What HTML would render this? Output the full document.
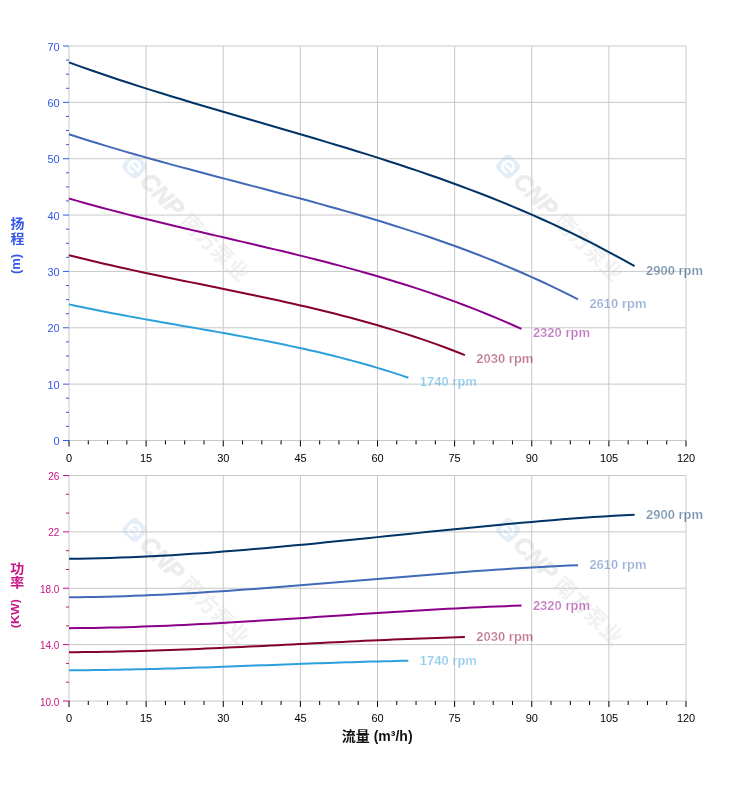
<!DOCTYPE html>
<html lang="zh"><head><meta charset="utf-8"><title>性能曲线</title>
<style>html,body{margin:0;padding:0;background:#fff}svg{display:block}text{font-family:"Liberation Sans", "Noto Sans CJK SC", sans-serif}.xl{font-size:11px;fill:#000;text-anchor:middle;letter-spacing:-.12px}.yl{font-size:11px;text-anchor:end;letter-spacing:-.12px}.ys{font-size:10px;text-anchor:end}.lb{font-size:13px;font-weight:bold;fill-opacity:.52;stroke:#fff;stroke-width:.2px}.ti{font-size:14px;font-weight:bold}.tr{font-weight:bold;text-anchor:middle}</style></head><body>
<svg width="752" height="797" viewBox="0 0 752 797">
<rect width="752" height="797" fill="#fff"/>
<g transform="translate(134.5,166.5) rotate(45)">
<rect x="-10" y="-10" width="20" height="20" rx="5" fill="#e3eef8"/>
<path d="M-4.5,0.5H5.5A5.6,5.6 0 1 0 3.6,4.6" fill="none" stroke="#fff" stroke-width="2.6"/>
<text x="14" y="8.5" font-size="24" font-weight="bold" font-style="italic" fill="#ececec" stroke="#ececec" stroke-width=".8">CNP</text>
<text x="71" y="8" font-size="21.5" font-weight="bold" fill="#f1f1f1">南方泵业</text>
</g>
<g transform="translate(508.2,166.5) rotate(45)">
<rect x="-10" y="-10" width="20" height="20" rx="5" fill="#e3eef8"/>
<path d="M-4.5,0.5H5.5A5.6,5.6 0 1 0 3.6,4.6" fill="none" stroke="#fff" stroke-width="2.6"/>
<text x="14" y="8.5" font-size="24" font-weight="bold" font-style="italic" fill="#ececec" stroke="#ececec" stroke-width=".8">CNP</text>
<text x="71" y="8" font-size="21.5" font-weight="bold" fill="#f1f1f1">南方泵业</text>
</g>
<path d="M69.00,46.0V440.5M146.12,46.0V440.5M223.25,46.0V440.5M300.38,46.0V440.5M377.50,46.0V440.5M454.62,46.0V440.5M531.75,46.0V440.5M608.88,46.0V440.5M686.00,46.0V440.5M69.0,440.50H686.0M69.0,384.14H686.0M69.0,327.79H686.0M69.0,271.43H686.0M69.0,215.07H686.0M69.0,158.71H686.0M69.0,102.36H686.0M69.0,46.00H686.0" stroke="#c8c8c8" stroke-width="1" fill="none"/>
<path d="M63.0,440.50H69.0M66.0,426.41H69.0M66.0,412.32H69.0M66.0,398.23H69.0M63.0,384.14H69.0M66.0,370.05H69.0M66.0,355.96H69.0M66.0,341.88H69.0M63.0,327.79H69.0M66.0,313.70H69.0M66.0,299.61H69.0M66.0,285.52H69.0M63.0,271.43H69.0M66.0,257.34H69.0M66.0,243.25H69.0M66.0,229.16H69.0M63.0,215.07H69.0M66.0,200.98H69.0M66.0,186.89H69.0M66.0,172.80H69.0M63.0,158.71H69.0M66.0,144.62H69.0M66.0,130.54H69.0M66.0,116.45H69.0M63.0,102.36H69.0M66.0,88.27H69.0M66.0,74.18H69.0M66.0,60.09H69.0M63.0,46.00H69.0" stroke="#3558e6" stroke-width="1" fill="none"/>
<path d="M69.00,440.5v6M88.28,440.5v4M107.56,440.5v4M126.84,440.5v4M146.12,440.5v6M165.41,440.5v4M184.69,440.5v4M203.97,440.5v4M223.25,440.5v6M242.53,440.5v4M261.81,440.5v4M281.09,440.5v4M300.38,440.5v6M319.66,440.5v4M338.94,440.5v4M358.22,440.5v4M377.50,440.5v6M396.78,440.5v4M416.06,440.5v4M435.34,440.5v4M454.62,440.5v6M473.91,440.5v4M493.19,440.5v4M512.47,440.5v4M531.75,440.5v6M551.03,440.5v4M570.31,440.5v4M589.59,440.5v4M608.88,440.5v6M628.16,440.5v4M647.44,440.5v4M666.72,440.5v4M686.00,440.5v6" stroke="#000" stroke-width="1" fill="none"/>
<text class="yl" x="59.4" y="445.3" fill="#3558e6">0</text>
<text class="yl" x="59.4" y="389.3" fill="#3558e6">10</text>
<text class="yl" x="59.4" y="332.3" fill="#3558e6">20</text>
<text class="yl" x="59.4" y="276.3" fill="#3558e6">30</text>
<text class="yl" x="59.4" y="220.3" fill="#3558e6">40</text>
<text class="yl" x="59.4" y="163.3" fill="#3558e6">50</text>
<text class="yl" x="59.4" y="107.3" fill="#3558e6">60</text>
<text class="yl" x="59.4" y="51.3" fill="#3558e6">70</text>
<text class="xl" x="69.0" y="461.8">0</text>
<text class="xl" x="146.1" y="461.8">15</text>
<text class="xl" x="223.2" y="461.8">30</text>
<text class="xl" x="300.4" y="461.8">45</text>
<text class="xl" x="377.5" y="461.8">60</text>
<text class="xl" x="454.6" y="461.8">75</text>
<text class="xl" x="531.8" y="461.8">90</text>
<text class="xl" x="608.9" y="461.8">105</text>
<text class="xl" x="686.0" y="461.8">120</text>
<path d="M69.00,62.41 L79.28,66.11 L89.57,69.73 L99.85,73.28 L110.13,76.76 L120.42,80.18 L130.70,83.53 L140.98,86.83 L151.27,90.09 L161.55,93.29 L171.83,96.45 L182.12,99.58 L192.40,102.67 L202.68,105.74 L212.97,108.78 L223.25,111.80 L233.53,114.80 L243.82,117.79 L254.10,120.78 L264.38,123.76 L274.67,126.75 L284.95,129.74 L295.23,132.74 L305.52,135.75 L315.80,138.79 L326.08,141.85 L336.37,144.94 L346.65,148.05 L356.93,151.21 L367.22,154.41 L377.50,157.65 L387.78,160.94 L398.07,164.29 L408.35,167.69 L418.63,171.16 L428.92,174.69 L439.20,178.30 L449.48,181.98 L459.77,185.74 L470.05,189.59 L480.33,193.52 L490.62,197.55 L500.90,201.68 L511.18,205.91 L521.47,210.24 L531.75,214.69 L542.03,219.25 L552.32,223.93 L562.60,228.73 L572.88,233.67 L583.17,238.73 L593.45,243.93 L603.73,249.28 L614.02,254.76 L624.30,260.40 L634.58,266.20" stroke="#003366" stroke-width="2" fill="none" stroke-linejoin="round"/>
<text class="lb" x="646.0" y="274.5" fill="#003366">2900 rpm</text>
<path d="M69.00,134.25 L78.25,137.25 L87.51,140.18 L96.77,143.05 L106.02,145.87 L115.28,148.64 L124.53,151.36 L133.78,154.03 L143.04,156.66 L152.30,159.26 L161.55,161.82 L170.81,164.35 L180.06,166.86 L189.31,169.34 L198.57,171.80 L207.82,174.25 L217.08,176.68 L226.34,179.11 L235.59,181.53 L244.84,183.94 L254.10,186.36 L263.36,188.78 L272.61,191.21 L281.87,193.66 L291.12,196.11 L300.38,198.59 L309.63,201.09 L318.88,203.62 L328.14,206.18 L337.40,208.76 L346.65,211.39 L355.91,214.06 L365.16,216.77 L374.41,219.52 L383.67,222.33 L392.93,225.20 L402.18,228.12 L411.44,231.10 L420.69,234.15 L429.94,237.26 L439.20,240.45 L448.45,243.71 L457.71,247.06 L466.97,250.48 L476.22,253.99 L485.48,257.59 L494.73,261.29 L503.99,265.08 L513.24,268.97 L522.50,272.96 L531.75,277.07 L541.00,281.28 L550.26,285.61 L559.52,290.05 L568.77,294.62 L578.02,299.31" stroke="#4169b8" stroke-width="2" fill="none" stroke-linejoin="round"/>
<text class="lb" x="589.4" y="307.6" fill="#4169b8">2610 rpm</text>
<path d="M69.00,198.53 L77.23,200.89 L85.45,203.21 L93.68,205.48 L101.91,207.71 L110.13,209.89 L118.36,212.04 L126.59,214.15 L134.81,216.23 L143.04,218.29 L151.27,220.31 L159.49,222.31 L167.72,224.29 L175.95,226.25 L184.17,228.20 L192.40,230.13 L200.63,232.05 L208.85,233.97 L217.08,235.88 L225.31,237.79 L233.53,239.70 L241.76,241.61 L249.99,243.53 L258.21,245.46 L266.44,247.41 L274.67,249.36 L282.89,251.34 L291.12,253.33 L299.35,255.35 L307.57,257.40 L315.80,259.48 L324.03,261.58 L332.25,263.72 L340.48,265.90 L348.71,268.12 L356.93,270.38 L365.16,272.69 L373.39,275.05 L381.61,277.45 L389.84,279.92 L398.07,282.44 L406.29,285.01 L414.52,287.65 L422.75,290.36 L430.97,293.14 L439.20,295.98 L447.43,298.90 L455.65,301.89 L463.88,304.97 L472.11,308.13 L480.33,311.37 L488.56,314.70 L496.79,318.12 L505.01,321.63 L513.24,325.24 L521.47,328.95" stroke="#8b008b" stroke-width="2" fill="none" stroke-linejoin="round"/>
<text class="lb" x="532.9" y="337.2" fill="#8b008b">2320 rpm</text>
<path d="M69.00,255.24 L76.20,257.05 L83.40,258.82 L90.59,260.56 L97.79,262.27 L104.99,263.94 L112.19,265.59 L119.39,267.20 L126.59,268.80 L133.78,270.37 L140.98,271.92 L148.18,273.45 L155.38,274.96 L162.58,276.47 L169.78,277.96 L176.97,279.44 L184.17,280.91 L191.37,282.37 L198.57,283.84 L205.77,285.30 L212.97,286.76 L220.16,288.23 L227.36,289.70 L234.56,291.17 L241.76,292.66 L248.96,294.16 L256.16,295.67 L263.36,297.20 L270.55,298.75 L277.75,300.31 L284.95,301.90 L292.15,303.52 L299.35,305.16 L306.54,306.82 L313.74,308.52 L320.94,310.25 L328.14,312.02 L335.34,313.83 L342.54,315.67 L349.73,317.55 L356.93,319.48 L364.13,321.46 L371.33,323.48 L378.53,325.55 L385.73,327.67 L392.92,329.85 L400.12,332.09 L407.32,334.38 L414.52,336.73 L421.72,339.15 L428.92,341.63 L436.11,344.18 L443.31,346.80 L450.51,349.49 L457.71,352.25 L464.91,355.09" stroke="#85002e" stroke-width="2" fill="none" stroke-linejoin="round"/>
<text class="lb" x="476.3" y="363.4" fill="#85002e">2030 rpm</text>
<path d="M69.00,304.39 L75.17,305.72 L81.34,307.02 L87.51,308.30 L93.68,309.55 L99.85,310.78 L106.02,311.99 L112.19,313.18 L118.36,314.35 L124.53,315.50 L130.70,316.64 L136.87,317.77 L143.04,318.88 L149.21,319.99 L155.38,321.08 L161.55,322.17 L167.72,323.25 L173.89,324.33 L180.06,325.40 L186.23,326.47 L192.40,327.55 L198.57,328.63 L204.74,329.71 L210.91,330.79 L217.08,331.88 L223.25,332.99 L229.42,334.10 L235.59,335.22 L241.76,336.36 L247.93,337.51 L254.10,338.67 L260.27,339.86 L266.44,341.06 L272.61,342.29 L278.78,343.54 L284.95,344.81 L291.12,346.11 L297.29,347.43 L303.46,348.79 L309.63,350.17 L315.80,351.59 L321.97,353.04 L328.14,354.52 L334.31,356.05 L340.48,357.61 L346.65,359.21 L352.82,360.85 L358.99,362.53 L365.16,364.26 L371.33,366.04 L377.50,367.86 L383.67,369.74 L389.84,371.66 L396.01,373.64 L402.18,375.67 L408.35,377.75" stroke="#2ca0dc" stroke-width="2" fill="none" stroke-linejoin="round"/>
<text class="lb" x="419.8" y="386.1" fill="#2ca0dc">1740 rpm</text>
<g transform="translate(134.5,530) rotate(45)">
<rect x="-10" y="-10" width="20" height="20" rx="5" fill="#e3eef8"/>
<path d="M-4.5,0.5H5.5A5.6,5.6 0 1 0 3.6,4.6" fill="none" stroke="#fff" stroke-width="2.6"/>
<text x="14" y="8.5" font-size="24" font-weight="bold" font-style="italic" fill="#ececec" stroke="#ececec" stroke-width=".8">CNP</text>
<text x="71" y="8" font-size="21.5" font-weight="bold" fill="#f1f1f1">南方泵业</text>
</g>
<g transform="translate(508.2,530) rotate(45)">
<rect x="-10" y="-10" width="20" height="20" rx="5" fill="#e3eef8"/>
<path d="M-4.5,0.5H5.5A5.6,5.6 0 1 0 3.6,4.6" fill="none" stroke="#fff" stroke-width="2.6"/>
<text x="14" y="8.5" font-size="24" font-weight="bold" font-style="italic" fill="#ececec" stroke="#ececec" stroke-width=".8">CNP</text>
<text x="71" y="8" font-size="21.5" font-weight="bold" fill="#f1f1f1">南方泵业</text>
</g>
<path d="M69.00,475.5V701.0M146.12,475.5V701.0M223.25,475.5V701.0M300.38,475.5V701.0M377.50,475.5V701.0M454.62,475.5V701.0M531.75,475.5V701.0M608.88,475.5V701.0M686.00,475.5V701.0M69.0,701.00H686.0M69.0,644.62H686.0M69.0,588.25H686.0M69.0,531.88H686.0M69.0,475.50H686.0" stroke="#c8c8c8" stroke-width="1" fill="none"/>
<path d="M63.0,701.00H69.0M66.0,682.21H69.0M66.0,663.42H69.0M63.0,644.62H69.0M66.0,625.83H69.0M66.0,607.04H69.0M63.0,588.25H69.0M66.0,569.46H69.0M66.0,550.67H69.0M63.0,531.88H69.0M66.0,513.08H69.0M66.0,494.29H69.0M63.0,475.50H69.0" stroke="#c71585" stroke-width="1" fill="none"/>
<path d="M69.00,701.0v6M88.28,701.0v4M107.56,701.0v4M126.84,701.0v4M146.12,701.0v6M165.41,701.0v4M184.69,701.0v4M203.97,701.0v4M223.25,701.0v6M242.53,701.0v4M261.81,701.0v4M281.09,701.0v4M300.38,701.0v6M319.66,701.0v4M338.94,701.0v4M358.22,701.0v4M377.50,701.0v6M396.78,701.0v4M416.06,701.0v4M435.34,701.0v4M454.62,701.0v6M473.91,701.0v4M493.19,701.0v4M512.47,701.0v4M531.75,701.0v6M551.03,701.0v4M570.31,701.0v4M589.59,701.0v4M608.88,701.0v6M628.16,701.0v4M647.44,701.0v4M666.72,701.0v4M686.00,701.0v6" stroke="#000" stroke-width="1" fill="none"/>
<text class="ys" x="59.4" y="706.2" fill="#c71585">10.0</text>
<text class="ys" x="59.4" y="649.2" fill="#c71585">14.0</text>
<text class="ys" x="59.4" y="593.2" fill="#c71585">18.0</text>
<text class="ys" x="59.4" y="536.2" fill="#c71585">22</text>
<text class="ys" x="59.4" y="480.2" fill="#c71585">26</text>
<text class="xl" x="69.0" y="722.3">0</text>
<text class="xl" x="146.1" y="722.3">15</text>
<text class="xl" x="223.2" y="722.3">30</text>
<text class="xl" x="300.4" y="722.3">45</text>
<text class="xl" x="377.5" y="722.3">60</text>
<text class="xl" x="454.6" y="722.3">75</text>
<text class="xl" x="531.8" y="722.3">90</text>
<text class="xl" x="608.9" y="722.3">105</text>
<text class="xl" x="686.0" y="722.3">120</text>
<path d="M69.00,558.75 L79.28,558.64 L89.57,558.47 L99.85,558.23 L110.13,557.95 L120.42,557.60 L130.70,557.21 L140.98,556.76 L151.27,556.27 L161.55,555.73 L171.83,555.14 L182.12,554.52 L192.40,553.85 L202.68,553.14 L212.97,552.40 L223.25,551.62 L233.53,550.81 L243.82,549.97 L254.10,549.10 L264.38,548.20 L274.67,547.28 L284.95,546.34 L295.23,545.37 L305.52,544.39 L315.80,543.38 L326.08,542.37 L336.37,541.34 L346.65,540.30 L356.93,539.25 L367.22,538.19 L377.50,537.13 L387.78,536.06 L398.07,535.00 L408.35,533.93 L418.63,532.87 L428.92,531.81 L439.20,530.76 L449.48,529.71 L459.77,528.68 L470.05,527.66 L480.33,526.65 L490.62,525.66 L500.90,524.69 L511.18,523.74 L521.47,522.81 L531.75,521.91 L542.03,521.03 L552.32,520.18 L562.60,519.36 L572.88,518.57 L583.17,517.82 L593.45,517.10 L603.73,516.42 L614.02,515.78 L624.30,515.19 L634.58,514.63" stroke="#003366" stroke-width="2" fill="none" stroke-linejoin="round"/>
<text class="lb" x="646.0" y="518.7" fill="#003366">2900 rpm</text>
<path d="M69.00,597.30 L78.25,597.22 L87.51,597.09 L96.77,596.92 L106.02,596.71 L115.28,596.46 L124.53,596.18 L133.78,595.85 L143.04,595.49 L152.30,595.10 L161.55,594.67 L170.81,594.21 L180.06,593.73 L189.31,593.21 L198.57,592.67 L207.82,592.10 L217.08,591.51 L226.34,590.90 L235.59,590.26 L244.84,589.61 L254.10,588.94 L263.36,588.25 L272.61,587.55 L281.87,586.83 L291.12,586.10 L300.38,585.36 L309.63,584.61 L318.88,583.85 L328.14,583.08 L337.40,582.31 L346.65,581.54 L355.91,580.76 L365.16,579.98 L374.41,579.21 L383.67,578.43 L392.93,577.66 L402.18,576.89 L411.44,576.13 L420.69,575.38 L429.94,574.63 L439.20,573.90 L448.45,573.18 L457.71,572.47 L466.97,571.78 L476.22,571.10 L485.48,570.44 L494.73,569.80 L503.99,569.18 L513.24,568.58 L522.50,568.01 L531.75,567.46 L541.00,566.94 L550.26,566.44 L559.52,565.98 L568.77,565.54 L578.02,565.14" stroke="#4169b8" stroke-width="2" fill="none" stroke-linejoin="round"/>
<text class="lb" x="589.4" y="569.2" fill="#4169b8">2610 rpm</text>
<path d="M69.00,628.17 L77.23,628.11 L85.45,628.02 L93.68,627.90 L101.91,627.76 L110.13,627.58 L118.36,627.38 L126.59,627.15 L134.81,626.90 L143.04,626.62 L151.27,626.32 L159.49,626.00 L167.72,625.66 L175.95,625.30 L184.17,624.92 L192.40,624.52 L200.63,624.10 L208.85,623.67 L217.08,623.23 L225.31,622.77 L233.53,622.30 L241.76,621.81 L249.99,621.32 L258.21,620.81 L266.44,620.30 L274.67,619.78 L282.89,619.25 L291.12,618.72 L299.35,618.18 L307.57,617.64 L315.80,617.10 L324.03,616.55 L332.25,616.01 L340.48,615.46 L348.71,614.92 L356.93,614.37 L365.16,613.83 L373.39,613.30 L381.61,612.77 L389.84,612.25 L398.07,611.73 L406.29,611.23 L414.52,610.73 L422.75,610.24 L430.97,609.77 L439.20,609.30 L447.43,608.85 L455.65,608.42 L463.88,608.00 L472.11,607.60 L480.33,607.21 L488.56,606.84 L496.79,606.50 L505.01,606.17 L513.24,605.86 L521.47,605.58" stroke="#8b008b" stroke-width="2" fill="none" stroke-linejoin="round"/>
<text class="lb" x="532.9" y="609.7" fill="#8b008b">2320 rpm</text>
<path d="M69.00,652.21 L76.20,652.17 L83.40,652.11 L90.59,652.03 L97.79,651.93 L104.99,651.81 L112.19,651.68 L119.39,651.53 L126.59,651.36 L133.78,651.17 L140.98,650.97 L148.18,650.76 L155.38,650.53 L162.58,650.28 L169.78,650.03 L176.97,649.76 L184.17,649.48 L191.37,649.20 L198.57,648.90 L205.77,648.59 L212.97,648.27 L220.16,647.95 L227.36,647.62 L234.56,647.28 L241.76,646.94 L248.96,646.59 L256.16,646.24 L263.36,645.88 L270.55,645.52 L277.75,645.16 L284.95,644.79 L292.15,644.43 L299.35,644.06 L306.54,643.69 L313.74,643.33 L320.94,642.97 L328.14,642.61 L335.34,642.25 L342.54,641.89 L349.73,641.54 L356.93,641.20 L364.13,640.86 L371.33,640.53 L378.53,640.20 L385.73,639.88 L392.92,639.57 L400.12,639.27 L407.32,638.98 L414.52,638.70 L421.72,638.43 L428.92,638.17 L436.11,637.92 L443.31,637.69 L450.51,637.47 L457.71,637.27 L464.91,637.08" stroke="#85002e" stroke-width="2" fill="none" stroke-linejoin="round"/>
<text class="lb" x="476.3" y="641.2" fill="#85002e">2030 rpm</text>
<path d="M69.00,670.27 L75.17,670.25 L81.34,670.21 L87.51,670.16 L93.68,670.10 L99.85,670.03 L106.02,669.94 L112.19,669.84 L118.36,669.74 L124.53,669.62 L130.70,669.50 L136.87,669.36 L143.04,669.22 L149.21,669.06 L155.38,668.90 L161.55,668.73 L167.72,668.56 L173.89,668.38 L180.06,668.19 L186.23,668.00 L192.40,667.80 L198.57,667.59 L204.74,667.38 L210.91,667.17 L217.08,666.95 L223.25,666.74 L229.42,666.51 L235.59,666.29 L241.76,666.06 L247.93,665.83 L254.10,665.60 L260.27,665.37 L266.44,665.14 L272.61,664.91 L278.78,664.68 L284.95,664.45 L291.12,664.23 L297.29,664.00 L303.46,663.78 L309.63,663.56 L315.80,663.34 L321.97,663.13 L328.14,662.92 L334.31,662.71 L340.48,662.51 L346.65,662.32 L352.82,662.13 L358.99,661.94 L365.16,661.77 L371.33,661.60 L377.50,661.43 L383.67,661.28 L389.84,661.13 L396.01,660.99 L402.18,660.86 L408.35,660.74" stroke="#2ca0dc" stroke-width="2" fill="none" stroke-linejoin="round"/>
<text class="lb" x="419.8" y="664.8" fill="#2ca0dc">1740 rpm</text>
<text class="ti" transform="translate(17.6,228.0) scale(1,.92)" text-anchor="middle" fill="#3558e6">扬</text>
<text class="ti" transform="translate(17.6,242.7) scale(1,.92)" text-anchor="middle" fill="#3558e6">程</text>
<text class="tr" font-size="13" transform="translate(20.3,264) rotate(-90)" fill="#3558e6">(m)</text>
<text class="ti" transform="translate(17.2,572.5) scale(1,.92)" text-anchor="middle" fill="#c71585">功</text>
<text class="ti" transform="translate(17.2,587.4) scale(1,.92)" text-anchor="middle" fill="#c71585">率</text>
<text class="tr" font-size="13" transform="translate(19.1,613.6) rotate(-90) scale(.965,.89)" fill="#c71585">(KW)</text>
<text class="ti" x="377.2" y="740.9" text-anchor="middle" fill="#111">流量 (m³/h)</text>
</svg></body></html>
